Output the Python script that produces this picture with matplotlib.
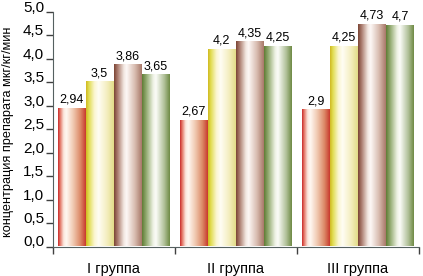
import matplotlib
matplotlib.use("Agg")
import matplotlib.pyplot as plt
import numpy as np
from matplotlib.colors import LinearSegmentedColormap

groups = ["I группа", "II группа", "III группа"]
series1 = [2.94, 2.67, 2.9]
series2 = [3.5, 4.2, 4.25]
series3 = [3.86, 4.35, 4.73]
series4 = [3.65, 4.25, 4.7]
value_labels = [["2,94", "2,67", "2,9"],
                ["3,5", "4,2", "4,25"],
                ["3,86", "4,35", "4,73"],
                ["3,65", "4,25", "4,7"]]
yticks = [0, 0.5, 1, 1.5, 2, 2.5, 3, 3.5, 4, 4.5, 5]
ylabel = "концентрация препарата мкг/кг/мин"

# horizontal gradients: dark edge -> white -> colour
grad_stops = [
    [(0.0, "#c8282a"), (0.07, "#e27060"), (0.2, "#fbe6dc"), (0.3, "#fff8f2"),
     (0.55, "#f0c8b0"), (0.8, "#dc8a68"), (0.92, "#d05a44"), (1.0, "#c8382e")],
    [(0.0, "#d0b820"), (0.1, "#e0dc50"), (0.3, "#fbf6d0"), (0.45, "#fffdf4"),
     (0.75, "#f4eec0"), (1.0, "#e2dc88")],
    [(0.0, "#7a4434"), (0.12, "#a8786a"), (0.35, "#f2e6e0"), (0.45, "#fdf8f6"),
     (0.75, "#d8bcb0"), (1.0, "#a87868")],
    [(0.0, "#5e7c34"), (0.15, "#92aa70"), (0.4, "#eef2e4"), (0.5, "#fbfcf8"),
     (0.8, "#b0c098"), (1.0, "#6e8a44")],
]

plt.rcParams["font.family"] = ["Liberation Sans Narrow", "Liberation Sans", "DejaVu Sans"]

fig = plt.figure(figsize=(4.23, 2.76), dpi=100)
ax = fig.add_axes([52.5 / 423, 29.5 / 276, 366.5 / 423, 234.5 / 276])

data = [series1, series2, series3, series4]
x = np.arange(len(groups))
bar_w = 0.229
grad = np.linspace(0, 1, 256).reshape(1, -1)
for i, vals in enumerate(data):
    cmap = LinearSegmentedColormap.from_list("g%d" % i, grad_stops[i])
    for j, v in enumerate(vals):
        x0 = x[j] - 2 * bar_w + i * bar_w
        ax.imshow(grad, cmap=cmap, extent=(x0, x0 + bar_w, 0, v),
                  aspect="auto", interpolation="bilinear", zorder=2)
        ax.text(x0 + bar_w / 2, v + 0.07, value_labels[i][j], ha="center",
                va="bottom", fontsize=9, family=["Liberation Sans", "DejaVu Sans"])

ax.set_xlim(-0.5, 2.5)
ax.set_ylim(0, 5)
ax.set_yticks(yticks)
ax.set_yticklabels([("%.1f" % t).replace(".", ",") for t in yticks], fontsize=11)
for lbl in ax.get_yticklabels():
    lbl.set_va("baseline")
ax.set_xticks([-0.5, 0.5, 1.5, 2.5])
ax.set_xticklabels([])
for j, g in enumerate(groups):
    ax.text(x[j], -22 / 234.5, g, ha="center", va="center", fontsize=10.5,
            transform=ax.get_xaxis_transform())

ax.spines["top"].set_visible(False)
ax.spines["right"].set_visible(False)
ax.spines["left"].set_color("#556060")
ax.spines["bottom"].set_color("#556060")
ax.tick_params(axis="y", length=5, width=1, color="#404040", pad=1)
ax.tick_params(axis="x", length=5, width=1, color="#404040")
ax.set_ylabel(ylabel, fontsize=9.2)
ax.yaxis.set_label_coords(-38 / 366.5, 0.49)

fig.savefig("out.png", dpi=100)
